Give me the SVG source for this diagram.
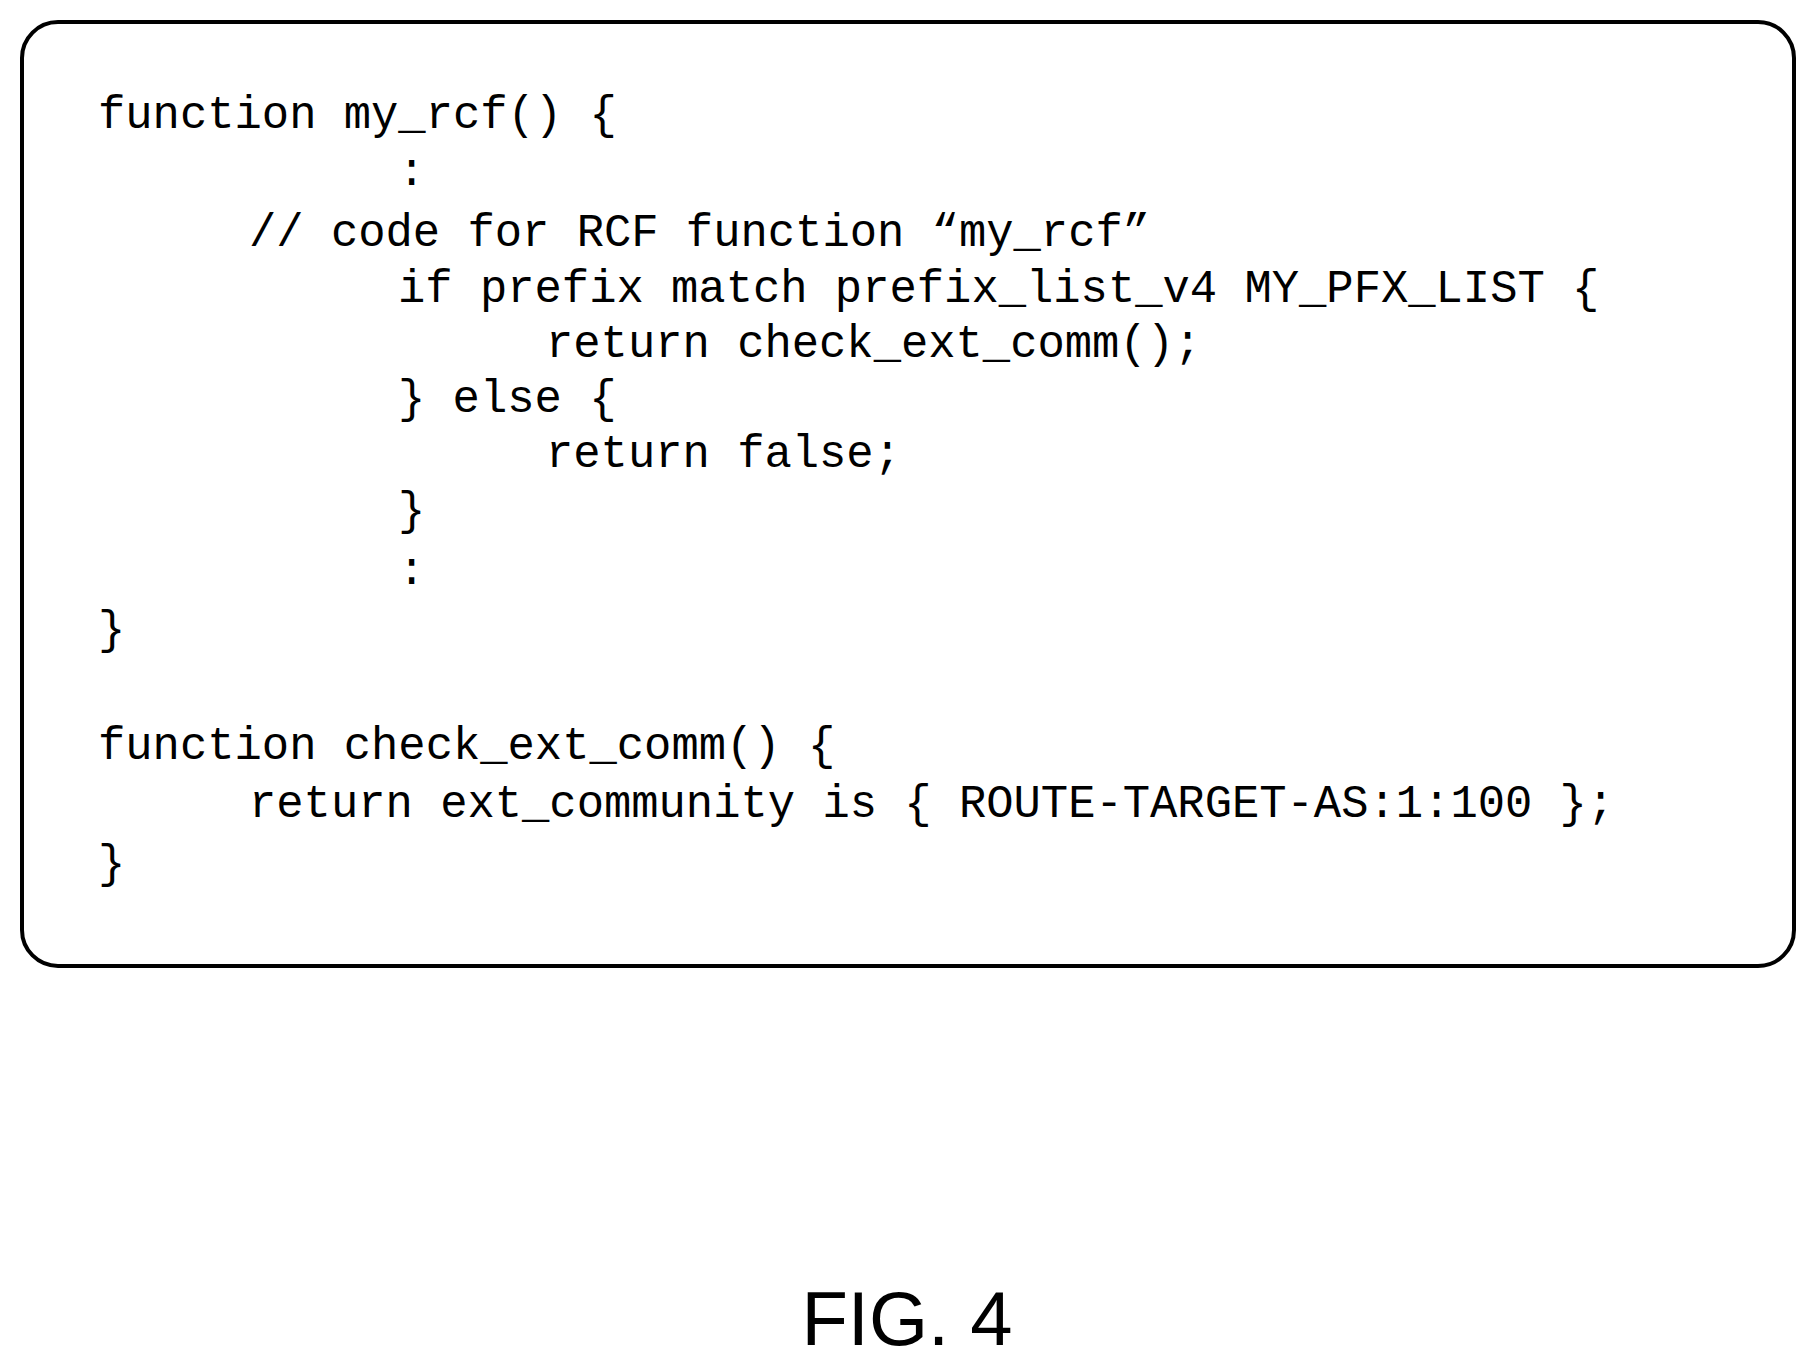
<svg xmlns="http://www.w3.org/2000/svg" width="1816" height="1365" viewBox="0 0 1816 1365">
<style>
.c{font-family:"Liberation Mono","Courier New",monospace;font-size:45.5px;fill:#000;white-space:pre}
.f{font-family:"Liberation Sans",Arial,sans-serif;font-size:76px;fill:#000}
</style>
<rect width="1816" height="1365" fill="#fff"/>
<g id="code-box">
<rect x="22" y="22" width="1772" height="944" rx="36" fill="none" stroke="#000" stroke-width="4"/>
<text class="c" x="98" y="128">function my_rcf() {</text>
<text class="c" x="398" y="185">:</text>
<text class="c" x="249" y="246">// code for RCF function “my_rcf”</text>
<text class="c" x="398" y="302">if prefix match prefix_list_v4 MY_PFX_LIST {</text>
<text class="c" x="546" y="357">return check_ext_comm();</text>
<text class="c" x="398" y="412">} else {</text>
<text class="c" x="546" y="467">return false;</text>
<text class="c" x="398" y="524">}</text>
<text class="c" x="398" y="584">:</text>
<text class="c" x="98" y="643">}</text>
<text class="c" x="98" y="759">function check_ext_comm() {</text>
<text class="c" x="249" y="817">return ext_community is { ROUTE-TARGET-AS:1:100 };</text>
<text class="c" x="98" y="877">}</text>
</g>
<g id="caption">
<text class="f" x="907" y="1345" text-anchor="middle">FIG. 4</text>
</g>
<g id="connectors"/>
</svg>
